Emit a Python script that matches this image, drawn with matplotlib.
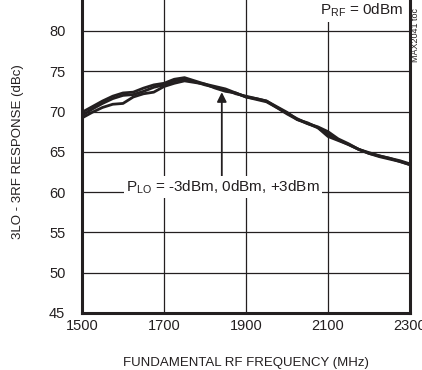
import matplotlib
matplotlib.use("Agg")
import matplotlib.pyplot as plt

# fonts: narrow sans like the datasheet (falls back to Liberation Sans)
plt.rcParams['font.family'] = ['Liberation Sans Narrow', 'Liberation Sans', 'DejaVu Sans']
plt.rcParams['mathtext.fontset'] = 'custom'
plt.rcParams['mathtext.rm'] = 'Liberation Sans'
plt.rcParams['mathtext.it'] = 'Liberation Sans'

# data (MHz, dBc)
freq = [1500, 1525, 1550, 1575, 1600, 1625, 1650, 1675, 1700, 1725, 1750,
        1775, 1800, 1825, 1850, 1875, 1900, 1925, 1950, 1975, 2000, 2025,
        2050, 2075, 2100, 2125, 2150, 2175, 2200, 2225, 2250, 2275, 2300]
plo_p3 = [69.9, 70.6, 71.3, 71.9, 72.3, 72.4, 72.9, 73.3, 73.5, 74.0, 74.2,
          73.8, 73.4, 73.1, 72.8, 72.3, 71.8, 71.6, 71.3, 70.6, 69.9, 69.0,
          68.5, 68.1, 67.5, 66.6, 66.0, 65.3, 64.8, 64.5, 64.2, 63.9, 63.5]
plo_m3 = [69.2, 69.9, 70.5, 70.9, 71.0, 71.8, 72.2, 72.4, 73.1, 73.5, 73.8,
          73.6, 73.4, 72.9, 72.5, 72.3, 71.8, 71.5, 71.2, 70.5, 69.7, 69.0,
          68.6, 68.0, 66.9, 66.4, 65.9, 65.3, 64.8, 64.4, 64.1, 63.8, 63.4]
plo_0 = [69.5, 70.3, 71.0, 71.6, 72.0, 72.1, 72.5, 73.0, 73.3, 73.8, 74.0,
         73.7, 73.3, 73.0, 72.7, 72.2, 71.9, 71.6, 71.3, 70.5, 69.8, 69.1,
         68.5, 68.0, 67.2, 66.5, 65.9, 65.3, 64.9, 64.5, 64.2, 63.8, 63.4]

xticks = [1500, 1700, 1900, 2100, 2300]
yticks = [45, 50, 55, 60, 65, 70, 75, 80]

fig = plt.figure(figsize=(4.22, 3.70), dpi=100)
# the top of the plot box is cut off in the original, so axes go past the figure top
ax = fig.add_axes([82/422, 57/370, 328/422, 322.4/370])

for vals in (plo_m3, plo_0, plo_p3):
    ax.plot(freq, vals, color='#231f20', lw=2.0, solid_capstyle='round')

ax.set_xlim(1500, 2300)
ax.set_ylim(45, 85)
ax.set_xticks(xticks)
ax.set_yticks(yticks)
ax.grid(True, color='#231f20', lw=0.9)
ax.tick_params(length=0, labelsize=10.5, colors='#231f20')
ax.tick_params(axis='y', pad=12)
ax.tick_params(axis='x', pad=4)
for s in ax.spines.values():
    s.set_linewidth(2.2)
    s.set_color('#231f20')

ax.set_xlabel('FUNDAMENTAL RF FREQUENCY (MHz)', fontsize=9.5, color='#231f20')
ax.set_ylabel('3LO - 3RF RESPONSE (dBc)', fontsize=9.5, color='#231f20')
ax.xaxis.label.set_va('center')
ax.yaxis.label.set_va('center')
ax.xaxis.set_label_coords(0.5, -50/322.4)
ax.yaxis.set_label_coords(-64/328, 0.5)

# annotations
ax.annotate('', xy=(1841, 72.4), xytext=(1841, 61.8),
            arrowprops=dict(arrowstyle='-|>', color='#231f20', lw=1.3,
                            mutation_scale=14, shrinkA=0, shrinkB=0))
ax.text(1844, 60.6, r'P$_{\rm LO}$ = -3dBm, 0dBm, +3dBm', fontsize=11,
        ha='center', va='center', color='#231f20',
        bbox=dict(boxstyle='square,pad=0.15', fc='white', ec='none'))
ax.text(2183, 82.6, r'P$_{\rm RF}$ = 0dBm', fontsize=11,
        ha='center', va='center', color='#231f20',
        bbox=dict(boxstyle='square,pad=0.2', fc='white', ec='none'))
fig.text(416/422, 1 - 62/370, 'MAX2041 toc', rotation=90, fontsize=6.5,
         ha='center', va='bottom', color='#231f20')

fig.savefig('out.png', dpi=100)
